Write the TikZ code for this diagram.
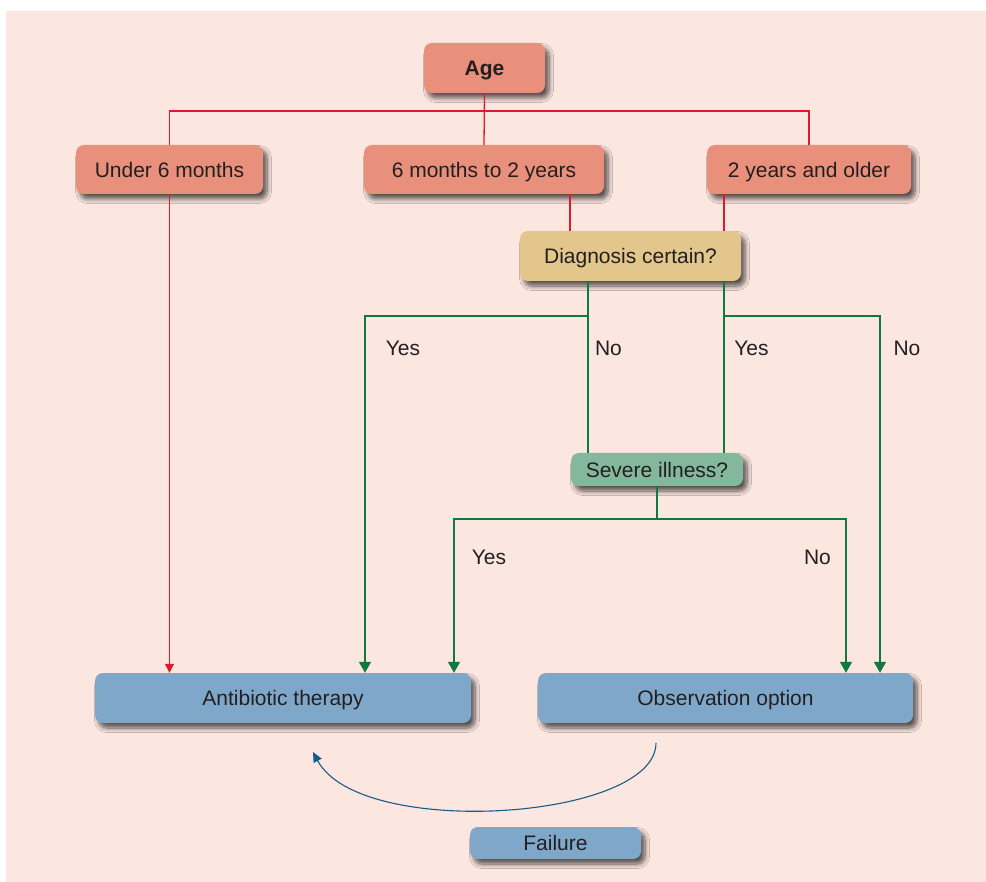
\documentclass[tikz,border=0pt]{standalone}
\usepackage{fontspec}
\setmainfont{Liberation Sans}
\usetikzlibrary{arrows.meta,shadows.blur}

\definecolor{pagebg}{HTML}{FCE6E0}
\definecolor{agefill}{HTML}{E8907C}
\definecolor{diagfill}{HTML}{E2C68C}
\definecolor{sevfill}{HTML}{84B89C}
\definecolor{outfill}{HTML}{7FA7C9}
\definecolor{inktext}{HTML}{231F20}
\definecolor{redline}{HTML}{E0182D}
\definecolor{greenline}{HTML}{0E7A40}
\definecolor{blueline}{HTML}{155C8A}

\tikzset{
  box/.style={rounded corners=8pt, inner sep=0pt, text=inktext,
    font=\fontsize{21}{25}\selectfont, text height=15.2pt, text depth=0pt,
    blur shadow={shadow xshift=4pt, shadow yshift=-5pt,
      shadow blur radius=4.5pt, shadow blur steps=8, shadow opacity=65}},
  agebox/.style={box, fill=agefill},
  diagbox/.style={box, fill=diagfill},
  sevbox/.style={box, fill=sevfill},
  outbox/.style={box, fill=outfill},
  redwire/.style={draw=redline, line width=1.3pt},
  greenwire/.style={draw=greenline, line width=1.4pt},
  redtip/.style={-{Triangle[length=9pt,width=9pt]}, redline},
  greentip/.style={-{Triangle[length=11pt,width=12pt]}, greenline},
  answer/.style={anchor=base, inner sep=0pt, text=inktext,
    font=\fontsize{21}{25}\selectfont},
}

\begin{document}
\begin{tikzpicture}[x=1pt, y=-1pt]
  % page and tinted panel
  \useasboundingbox (0,0) rectangle (986,882);
  \fill[pagebg] (6,11) rectangle (986,882);

  % boxes
  \node[agebox, minimum width=121pt, minimum height=50pt] (age) at (484.5,68) {\bfseries Age};
  \node[agebox, minimum width=187pt, minimum height=49pt] (u6) at (169.5,169.5) {Under 6 months};
  \node[agebox, minimum width=240pt, minimum height=49pt] (m6) at (484,169.5) {6 months to 2 years};
  \node[agebox, minimum width=204pt, minimum height=49pt] (y2) at (809,169.5) {2 years and older};
  \node[diagbox, minimum width=221pt, minimum height=50pt] (diag) at (630.5,256) {Diagnosis certain?};
  \node[sevbox, minimum width=172pt, minimum height=33pt] (sev) at (657,469.5) {Severe illness?};
  \node[outbox, minimum width=376pt, minimum height=50pt] (abx) at (283,698) {Antibiotic therapy};
  \node[outbox, minimum width=375pt, minimum height=50pt] (obs) at (725.5,698) {Observation option};
  \node[outbox, minimum width=171pt, minimum height=32pt] (fail) at (555.5,843) {Failure};

  % wiring columns and buses
  \coordinate (rbus) at (484,111);
  \coordinate (cm6) at (570,0);
  \coordinate (cy2) at (724,0);
  \coordinate (gbus) at (0,316);
  \coordinate (cA) at (588,0);
  \coordinate (cB) at (724,0);
  \coordinate (cYesA) at (365,0);
  \coordinate (cNoB) at (880,0);
  \coordinate (sbus) at (0,519);
  \coordinate (cYesS) at (454,0);
  \coordinate (cNoS) at (846,0);

  % age split (red)
  \draw[redwire] (age.south) -- (m6.north);
  \draw[redwire] (u6.north) -- (u6.north |- rbus) -- (y2.north |- rbus) -- (y2.north);
  \draw[redwire, redtip] (u6.south) -- (u6.south |- abx.north);
  \draw[redwire] (m6.south -| cm6) -- (diag.north -| cm6);
  \draw[redwire] (y2.south -| cy2) -- (diag.north -| cy2);

  % diagnosis branches (green)
  \draw[greenwire] (diag.south -| cA) -- (sev.north -| cA);
  \draw[greenwire, greentip] (cA |- gbus) -| (abx.north -| cYesA);
  \draw[greenwire] (diag.south -| cB) -- (sev.north -| cB);
  \draw[greenwire, greentip] (cB |- gbus) -| (obs.north -| cNoB);

  % severity branches (green)
  \draw[greenwire] (sev.south) -- (sev.south |- sbus);
  \draw[greenwire, greentip] (sev.south |- sbus) -| (abx.north -| cYesS);
  \draw[greenwire, greentip] (sev.south |- sbus) -| (obs.north -| cNoS);

  % branch labels
  \node[answer] (lyA) at (403,356) {Yes};
  \node[answer] (lnA) at (608.5,356) {No};
  \node[answer] (lyB) at (751.5,356) {Yes};
  \node[answer] (lnB) at (907,356) {No};
  \node[answer] (lyS) at (489,564.5) {Yes};
  \node[answer] (lnS) at (817.5,564.5) {No};

  % failure loop back to therapy
  \coordinate (loopstart) at (656,743);
  \coordinate (loopend) at (313,752);
  \draw[blueline, line width=1.1pt, -{Triangle[length=10pt,width=9pt]}]
    (loopstart) .. controls (656,820) and (360,840) .. (loopend);
\end{tikzpicture}
\end{document}
